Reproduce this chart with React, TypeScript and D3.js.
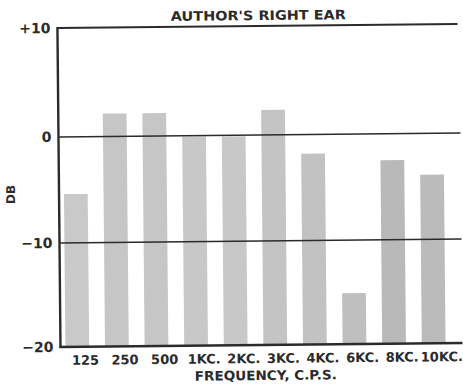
import React from "react";
import * as d3 from "d3";

const categories = ["125", "250", "500", "1KC.", "2KC.", "3KC.", "4KC.", "6KC.", "8KC.", "10KC."];
const values = [-5.4, 2.1, 2.1, -0.1, -0.1, 2.3, -1.8, -15.1, -2.5, -3.9];
const shades = ["#c9c9c9", "#c6c6c6", "#c6c6c6", "#c8c8c8", "#c8c8c8", "#c4c4c4", "#c2c2c2", "#bfbfbf", "#b9b9b9", "#bbbbbb"];
const yTicks = [10, 0, -10, -20];
const yTickLabels = ["+10", "0", "\u221210", "\u221220"];

const W = 463;
const H = 388;

export default function App() {
  const x = d3.scaleBand<string>().domain(categories).range([56, 452]).paddingInner(0.4).paddingOuter(0.2);
  const y = d3.scaleLinear().domain([-20, -10, 0, 10]).range([345, 241, 135, 26]);
  const font = "'DejaVu Sans', Verdana, sans-serif";
  const ink = "#2b2b2b";
  const left = 59;
  const right = 461;
  return (
    <svg width={W} height={H} style={{ position: "absolute", left: 0, top: 0, background: "#fff" }}>
      <g transform="rotate(-0.55 260 190)">
        {categories.map((c, i) => (
          <rect
            key={c}
            x={x(c)}
            width={x.bandwidth()}
            y={y(values[i])}
            height={y(-20) - y(values[i])}
            fill={shades[i]}
          />
        ))}
        {[0, -10].map((t) => (
          <line key={t} x1={left} x2={right} y1={y(t)} y2={y(t)} stroke={ink} strokeWidth={1.6} />
        ))}
        <line x1={left} x2={right - 2} y1={y(10)} y2={y(10)} stroke={ink} strokeWidth={2} />
        <line x1={left} x2={left} y1={y(10) - 1} y2={y(-20) + 1} stroke={ink} strokeWidth={2.4} />
        <line x1={left - 1} x2={right} y1={y(-20)} y2={y(-20)} stroke={ink} strokeWidth={2.4} />
        {yTicks.map((t, i) => (
          <text
            key={t}
            x={52}
            y={y(t)}
            dy="0.36em"
            textAnchor="end"
            fontFamily={font}
            fontWeight="bold"
            fontSize={14}
            fill={ink}
          >
            {yTickLabels[i]}
          </text>
        ))}
        {categories.map((c) => (
          <text
            key={c}
            x={(x(c) as number) + x.bandwidth() / 2 + 8}
            y={363}
            textAnchor="middle"
            fontFamily={font}
            fontWeight="bold"
            fontSize={13}
            fill={ink}
          >
            {c}
          </text>
        ))}
        <text
          x={260}
          y={20}
          textAnchor="middle"
          fontFamily={font}
          fontWeight="bold"
          fontSize={13}
          textLength={175}
          lengthAdjust="spacingAndGlyphs"
          fill={ink}
        >
          AUTHOR'S RIGHT EAR
        </text>
        <text
          x={264}
          y={380}
          textAnchor="middle"
          fontFamily={font}
          fontWeight="bold"
          fontSize={13}
          textLength={142}
          lengthAdjust="spacingAndGlyphs"
          fill={ink}
        >
          FREQUENCY, C.P.S.
        </text>
        <text
          transform="translate(15 192) rotate(-90)"
          textAnchor="middle"
          fontFamily={font}
          fontWeight="bold"
          fontSize={12}
          fill={ink}
        >
          DB
        </text>
      </g>
    </svg>
  );
}
